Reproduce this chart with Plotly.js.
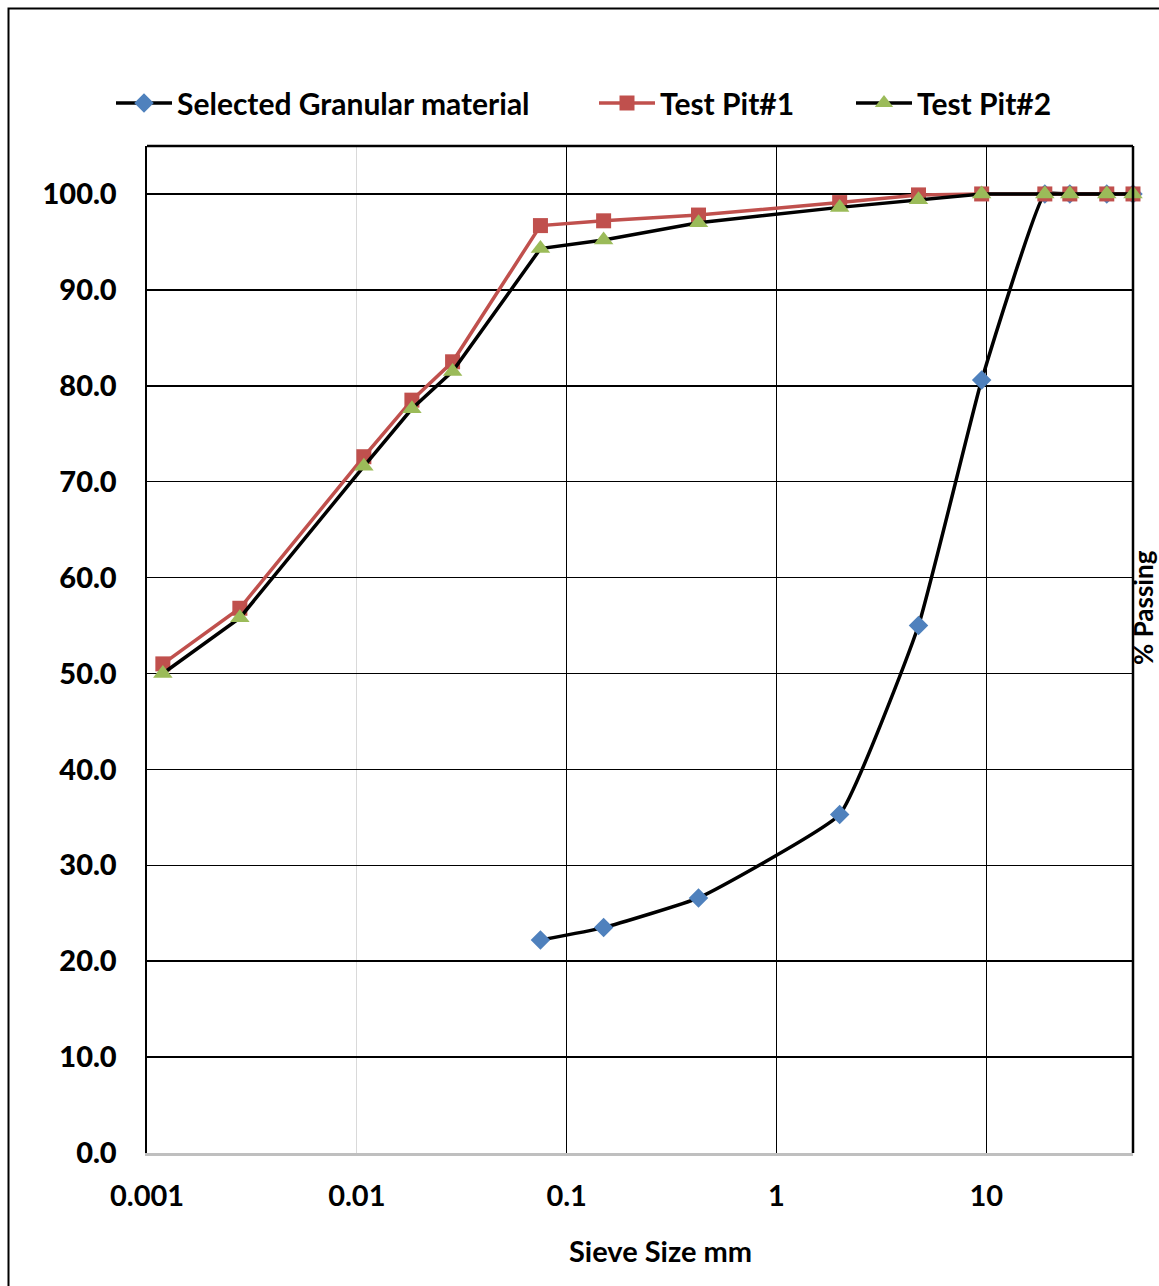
<!DOCTYPE html>
<html>
<head>
<meta charset="utf-8">
<script src="https://cdn.plot.ly/plotly-3.0.1.min.js"></script>
<style>html,body{margin:0;padding:0;background:#fff;}#chart{width:1159px;height:1286px;}</style>
</head>
<body>
<div id="chart"></div>
<script>
// Sieve sizes (mm)
const sievesSelected = [0.075, 0.15, 0.425, 2.0, 4.75, 9.5, 19, 25, 37.5, 50];
const passSelected   = [22.2, 23.5, 26.6, 35.3, 55.0, 80.6, 100, 100, 100, 100];

const sievesPit = [0.00119, 0.00277, 0.0108, 0.0183, 0.0286, 0.075, 0.15, 0.425, 2.0, 4.75, 9.5, 19, 25, 37.5, 50];
const passPit1  = [51.0, 56.8, 72.6, 78.5, 82.5, 96.7, 97.2, 97.8, 99.1, 99.9, 100, 100, 100, 100, 100];
const passPit2  = [50.0, 55.8, 71.6, 77.6, 81.5, 94.3, 95.2, 97.0, 98.6, 99.4, 100, 100, 100, 100, 100];

const seriesNames = ['Selected Granular material', 'Test Pit#1', 'Test Pit#2'];
const xTickVals = [0.001, 0.01, 0.1, 1, 10];
const xTickText = ['0.001', '0.01', '0.1', '1', '10'];
const xMajorGrid = [0.1, 1, 10];
const yTickVals = [0, 10, 20, 30, 40, 50, 60, 70, 80, 90, 100];
const xTitle = 'Sieve Size mm';
const yTitle = '% Passing';

const FONT = 'Lato, "Open Sans", sans-serif';
const XRANGE = [-3, Math.log10(50)];

const traces = [
  {x: sievesSelected, y: passSelected, name: seriesNames[0], type: 'scatter', mode: 'lines+markers',
   line: {color: '#000000', width: 3.5, shape: 'spline', smoothing: 0.35},
   marker: {symbol: 'diamond', size: 15, color: '#4f81bd'}, cliponaxis: false, legend: 'legend'},
  {x: sievesPit, y: passPit1, name: seriesNames[1], type: 'scatter', mode: 'lines+markers',
   line: {color: '#c0504d', width: 3.5},
   marker: {symbol: 'square', size: 15, color: '#c0504d'}, cliponaxis: false, legend: 'legend2'},
  {x: sievesPit, y: passPit2, name: seriesNames[2], type: 'scatter', mode: 'lines+markers',
   line: {color: '#000000', width: 3.5},
   marker: {symbol: 'triangle-up', size: 17, color: '#9bbb59'}, cliponaxis: false, legend: 'legend3'},
  // invisible helper trace so the overlaid grid axis is drawn
  {x: [1], y: [50], xaxis: 'x2', yaxis: 'y', type: 'scatter', mode: 'markers',
   marker: {opacity: 0}, showlegend: false, hoverinfo: 'skip'}
];

const W = 1159, H = 1286;
const L = 147, R = 1133, T = 146, B = 1153;
const pw = R - L, ph = B - T;
const px = v => (v - L) / pw;
const py = v => (B - v) / ph;

const legendCommon = {orientation: 'h', yanchor: 'middle', y: py(103), xanchor: 'left',
  font: {family: FONT, size: 30, color: '#000', weight: 'bold'}, bgcolor: 'rgba(0,0,0,0)', itemwidth: 56, tracegroupgap: 0};

const layout = {
  width: W, height: H,
  margin: {l: L, r: W - R, t: T, b: H - B},
  paper_bgcolor: '#ffffff', plot_bgcolor: '#ffffff',
  font: {family: FONT, color: '#000'},
  showlegend: true,
  legend:  Object.assign({}, legendCommon, {x: px(111)}),
  legend2: Object.assign({}, legendCommon, {x: px(594)}),
  legend3: Object.assign({}, legendCommon, {x: px(851)}),
  xaxis: {type: 'log', range: XRANGE, tickvals: xTickVals, ticktext: xTickText,
    showgrid: true, gridcolor: '#d9d9d9', gridwidth: 1, zeroline: false,
    showline: true, linecolor: '#bfbfbf', linewidth: 2.5, ticks: '',
    ticklabelstandoff: 16,
    tickfont: {family: FONT, size: 29, color: '#000', weight: 'bold'}},
  xaxis2: {type: 'log', range: XRANGE, overlaying: 'x', anchor: 'y', side: 'bottom',
    tickvals: xMajorGrid, showticklabels: false, ticks: '',
    showgrid: true, gridcolor: '#000000', gridwidth: 1.5, zeroline: false, showline: false},
  yaxis: {range: [0, 105], tickvals: yTickVals, tickformat: '.1f',
    showgrid: true, gridcolor: '#000000', gridwidth: 1.5, zeroline: false,
    showline: true, linecolor: '#000000', linewidth: 2.5, ticks: '',
    ticklabelstandoff: 22,
    tickfont: {family: FONT, size: 29, color: '#000', weight: 900}},
  shapes: [
    // plot top and right borders
    {type: 'line', xref: 'paper', yref: 'paper', x0: 0, x1: 1, y0: 1, y1: 1, line: {color: '#000', width: 2.5}, layer: 'above'},
    {type: 'line', xref: 'paper', yref: 'paper', x0: 1, x1: 1, y0: 0, y1: 1, line: {color: '#000', width: 2.5}, layer: 'above'},
    // outer chart border
    {type: 'rect', xref: 'paper', yref: 'paper', x0: px(8.5), x1: px(1175), y0: py(8.5), y1: py(1300),
     line: {color: '#000', width: 2}, fillcolor: 'rgba(0,0,0,0)', layer: 'above'}
  ],
  annotations: [
    {text: xTitle, xref: 'paper', yref: 'paper', x: px(660), y: py(1250), xanchor: 'center', yanchor: 'middle',
     showarrow: false, font: {family: FONT, size: 29, color: '#000', weight: 'bold'}},
    {text: yTitle, xref: 'paper', yref: 'paper', x: px(1143), y: py(608), xanchor: 'center', yanchor: 'middle',
     textangle: -90, showarrow: false, borderpad: 0, font: {family: FONT, size: 26, color: '#000', weight: 'bold'}}
  ]
};

Plotly.newPlot('chart', traces, layout, {displayModeBar: false, staticPlot: true});
</script>
</body>
</html>
